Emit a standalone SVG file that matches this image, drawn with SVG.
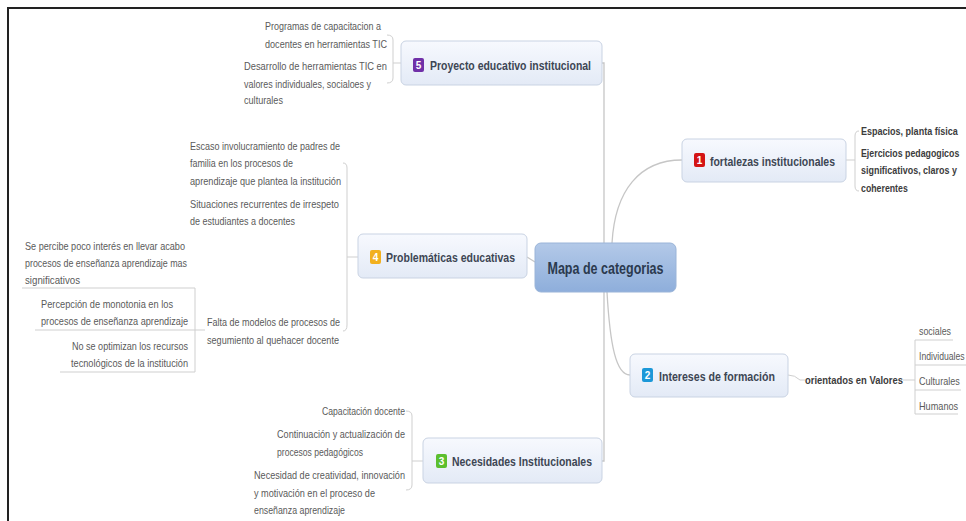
<svg xmlns="http://www.w3.org/2000/svg" width="966" height="521" viewBox="0 0 966 521">
<defs>
<linearGradient id="gNode" x1="0" y1="0" x2="0" y2="1"><stop offset="0" stop-color="#f7f9fe"/><stop offset="1" stop-color="#e3eaf6"/></linearGradient>
<linearGradient id="gMain" x1="0" y1="0" x2="0" y2="1"><stop offset="0" stop-color="#b3c9e8"/><stop offset="1" stop-color="#8eaedb"/></linearGradient>
<style>
.node{fill:url(#gNode);stroke:#c9d3e3;stroke-width:1}
.nt{font-family:"Liberation Sans",Arial,sans-serif;font-weight:bold;font-size:13px;fill:#3d4654}
.st{font-family:"Liberation Sans",Arial,sans-serif;font-size:10.5px;fill:#5a5a5a}
.bt{font-family:"Liberation Sans",Arial,sans-serif;font-weight:bold;font-size:11px;fill:#3c3c3c}
.ic{font-family:"Liberation Sans",Arial,sans-serif;font-weight:bold;font-size:10px;fill:#fff;text-anchor:middle}
.ln{fill:none;stroke:#c6c6c6;stroke-width:1.3}
.sl{fill:none;stroke:#cfcfcf;stroke-width:1}
</style>
</defs>
<rect width="966" height="521" fill="#fff"/>
<path d="M8 521V8H966" fill="none" stroke="#222" stroke-width="2"/>

<g id="connectors">
<path class="ln" d="M602 63H604V461H602"/>
<path class="ln" d="M612 243C615 190 640 160 682 160"/>
<path class="ln" d="M607 292C610 345 616 375 630 375"/>
<path class="ln" d="M527 257L535 262"/>
<path class="sl" d="M387 35Q393 35 393 40V78Q393 83 387 83M393 63H401"/>
<path class="sl" d="M343 163Q347 163 347 168V325Q347 331 343 331M347 257H358"/>
<path class="sl" d="M22 288H195V372H60M35 330H205"/>
<path class="sl" d="M859 131Q855 131 855 136V186Q855 191 859 191M846 160H855"/>
<path class="sl" d="M788 375Q795 375 800 380H805"/>
<path class="sl" d="M903 380H915M915 340V414M915 340H953M915 365H966M915 390H961M915 414H958"/>
<path class="sl" d="M406 411Q412 411 412 416V485Q412 490 406 490M412 461H423"/>
</g>

<g id="central">
<rect x="535" y="243" width="141" height="49" rx="6" fill="url(#gMain)" stroke="#9ab4d8"/>
<text x="605.5" y="274" text-anchor="middle" font-family="Liberation Sans,Arial,sans-serif" font-weight="bold" font-size="16" fill="#2b3a4f" textLength="116" lengthAdjust="spacingAndGlyphs">Mapa de categorias</text>
</g>

<g id="node5">
<rect class="node" x="401" y="41" width="201" height="44" rx="5"/>
<rect x="413" y="58" width="11" height="14" rx="2" fill="#7030a8"/><text class="ic" x="418.5" y="69">5</text>
<text class="nt" x="430" y="70" textLength="161" lengthAdjust="spacingAndGlyphs">Proyecto educativo institucional</text>
<text class="st" x="381" y="30" text-anchor="end" textLength="116" lengthAdjust="spacingAndGlyphs">Programas de capacitacion a</text>
<text class="st" x="387" y="48" text-anchor="end" textLength="122" lengthAdjust="spacingAndGlyphs">docentes en herramientas TIC</text>
<text class="st" x="244" y="70" textLength="143" lengthAdjust="spacingAndGlyphs">Desarrollo de herramientas TIC en</text>
<text class="st" x="244" y="88" textLength="127" lengthAdjust="spacingAndGlyphs">valores individuales, socialoes y</text>
<text class="st" x="244" y="104" textLength="39" lengthAdjust="spacingAndGlyphs">culturales</text>
</g>

<g id="node4">
<rect class="node" x="358" y="234" width="169" height="44" rx="5"/>
<rect x="370" y="250" width="11" height="14" rx="2" fill="#f2b01e"/><text class="ic" x="375.5" y="261">4</text>
<text class="nt" x="386" y="262" textLength="129" lengthAdjust="spacingAndGlyphs">Problemáticas educativas</text>
<text class="st" x="190" y="150" textLength="150" lengthAdjust="spacingAndGlyphs">Escaso involucramiento de padres de</text>
<text class="st" x="190" y="167" textLength="103" lengthAdjust="spacingAndGlyphs">familia en los procesos de</text>
<text class="st" x="190" y="185" textLength="151" lengthAdjust="spacingAndGlyphs">aprendizaje que plantea la institución</text>
<text class="st" x="190" y="208" textLength="149" lengthAdjust="spacingAndGlyphs">Situaciones recurrentes de  irrespeto</text>
<text class="st" x="190" y="225" textLength="105" lengthAdjust="spacingAndGlyphs">de estudiantes a docentes</text>
<text class="st" x="207" y="326" textLength="133" lengthAdjust="spacingAndGlyphs">Falta de modelos de procesos de</text>
<text class="st" x="207" y="344" textLength="132" lengthAdjust="spacingAndGlyphs">segumiento al quehacer docente</text>
<text class="st" x="25" y="250" textLength="160" lengthAdjust="spacingAndGlyphs">Se percibe poco interés en llevar acabo</text>
<text class="st" x="25" y="267" textLength="162" lengthAdjust="spacingAndGlyphs">procesos de enseñanza aprendizaje mas</text>
<text class="st" x="25" y="284" textLength="55" lengthAdjust="spacingAndGlyphs">significativos</text>
<text class="st" x="41" y="308" textLength="132" lengthAdjust="spacingAndGlyphs">Percepción de monotonia en los</text>
<text class="st" x="41" y="325" textLength="147" lengthAdjust="spacingAndGlyphs">procesos de enseñanza aprendizaje</text>
<text class="st" x="188" y="350" text-anchor="end" textLength="116" lengthAdjust="spacingAndGlyphs">No se optimizan los recursos</text>
<text class="st" x="188" y="367" text-anchor="end" textLength="117" lengthAdjust="spacingAndGlyphs">tecnológicos de la institución</text>
</g>

<g id="node1">
<rect class="node" x="682" y="139" width="164" height="43" rx="5"/>
<rect x="694" y="153" width="11" height="14" rx="2" fill="#d41414"/><text class="ic" x="699.5" y="164">1</text>
<text class="nt" x="710" y="166" textLength="125" lengthAdjust="spacingAndGlyphs">fortalezas institucionales</text>
<g transform="translate(861 0) scale(0.78 1)">
<text class="bt" x="0" y="135" textLength="124" lengthAdjust="spacingAndGlyphs">Espacios, planta física</text>
<text class="bt" x="0" y="157" textLength="126" lengthAdjust="spacingAndGlyphs">Ejercicios pedagogicos</text>
<text class="bt" x="0" y="174" textLength="123" lengthAdjust="spacingAndGlyphs">significativos, claros y</text>
<text class="bt" x="0" y="192" textLength="60" lengthAdjust="spacingAndGlyphs">coherentes</text>
</g>
</g>

<g id="node2">
<rect class="node" x="630" y="354" width="158" height="43" rx="5"/>
<rect x="642" y="368" width="11" height="14" rx="2" fill="#1c98d8"/><text class="ic" x="647.5" y="379">2</text>
<text class="nt" x="659" y="381" textLength="116" lengthAdjust="spacingAndGlyphs">Intereses de formación</text>
<text class="bt" x="805" y="384" textLength="98" lengthAdjust="spacingAndGlyphs">orientados en Valores</text>
<g transform="translate(919 0) scale(0.8 1)">
<text class="st" x="0" y="335" textLength="40" lengthAdjust="spacingAndGlyphs">sociales</text>
<text class="st" x="0" y="360" textLength="57" lengthAdjust="spacingAndGlyphs">Individuales</text>
<text class="st" x="0" y="385" textLength="51" lengthAdjust="spacingAndGlyphs">Culturales</text>
<text class="st" x="0" y="410" textLength="49" lengthAdjust="spacingAndGlyphs">Humanos</text>
</g>
</g>

<g id="node3">
<rect class="node" x="423" y="438" width="179" height="45" rx="5"/>
<rect x="436" y="454" width="11" height="14" rx="2" fill="#5cbf2e"/><text class="ic" x="441.5" y="465">3</text>
<text class="nt" x="452" y="466" textLength="140" lengthAdjust="spacingAndGlyphs">Necesidades Institucionales</text>
<text class="st" x="405" y="415" text-anchor="end" textLength="83" lengthAdjust="spacingAndGlyphs">Capacitación docente</text>
<text class="st" x="405" y="438" text-anchor="end" textLength="128" lengthAdjust="spacingAndGlyphs">Continuación y actualización de</text>
<text class="st" x="277" y="456" textLength="86" lengthAdjust="spacingAndGlyphs">procesos pedagógicos</text>
<text class="st" x="254" y="479" textLength="151" lengthAdjust="spacingAndGlyphs">Necesidad de creatividad, innovación</text>
<text class="st" x="254" y="497" textLength="121" lengthAdjust="spacingAndGlyphs">y motivación en el proceso de</text>
<text class="st" x="254" y="514" textLength="91" lengthAdjust="spacingAndGlyphs">enseñanza aprendizaje</text>
</g>
</svg>
